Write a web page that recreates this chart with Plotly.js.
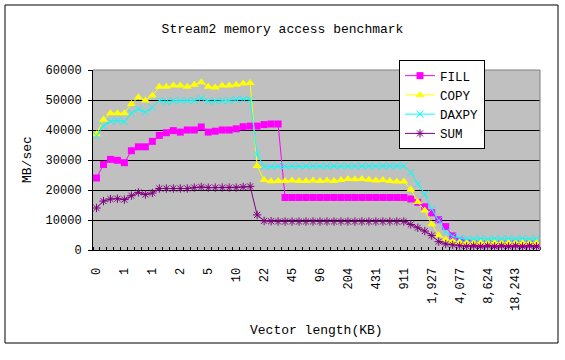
<!DOCTYPE html>
<html>
<head>
<meta charset="utf-8">
<script src="https://cdn.plot.ly/plotly-3.0.1.min.js"></script>
<style>
html,body{margin:0;padding:0;background:#fff;}
#chart{width:565px;height:360px;}
</style>
</head>
<body>
<div id="chart"></div>
<script>
// Tick labels (every 4th category, vector length in KB)
var tickLabels = ["0","1","1","2","5","10","22","45","96","204","431","911","1,927","4,077","8,624","18,243"];
var tickIndex = [0,4,8,12,16,20,24,28,32,36,40,44,48,52,56,60];

var fill = [24000,28500,30200,29900,29100,33100,34400,34400,36200,38200,
  39100,39800,39300,40000,40000,41000,39300,39600,40000,40000,
  40400,41100,41300,41300,41800,42000,42000,17500,17500,17500,
  17500,17500,17500,17500,17500,17500,17500,17500,17500,17500,
  17500,17500,17500,17500,17500,17000,15900,14400,12400,10100,
  7800,4700,3000,2300,2000,1900,2000,1800,2000,1900,
  2000,1800,2000,1900];

var copy = [38600,43400,45600,45600,45600,48700,50900,49800,51500,54400,
  54400,54800,54800,54400,55100,55900,54400,54200,54800,54800,
  55100,55500,55700,28000,23300,22900,23000,23000,23200,23000,
  23000,23200,23000,23200,23000,23300,23700,23600,23700,23400,
  23200,23300,23000,22800,22800,20200,16000,13200,8600,4900,
  3400,2800,2600,2400,2600,2400,2600,2400,2600,2400,
  2600,2400,2600,2400];

var daxpy = [38100,41400,42900,43200,42800,45600,47000,45900,47500,49800,
  49400,49800,49800,49800,49800,50500,49600,49600,49800,49800,
  50200,50200,50200,31800,27800,27800,28000,28000,28000,28000,
  28000,28000,28000,28000,28000,28000,28000,28000,28000,28000,
  28000,28000,28000,28000,28000,25800,22000,18600,13600,10000,
  6000,4600,3900,3700,3600,3800,3600,3800,3600,3800,
  3600,3800,3600,3800];

var sum = [14000,16300,17000,17100,16800,18100,19200,18500,19000,20500,
  20500,20500,20500,20500,20800,21000,20800,20800,20800,20800,
  20800,21000,21200,11700,9700,9600,9500,9500,9500,9500,
  9500,9500,9500,9500,9500,9500,9500,9500,9500,9500,
  9500,9500,9500,9500,9500,8500,7400,6300,4800,2800,
  2000,1700,1400,1200,1400,1200,1400,1200,1400,1200,
  1400,1200,1400,1200];

var xIdx = fill.map(function(_, i){ return i; });
var bounds = fill.map(function(_, i){ return i - 0.5; }).concat([fill.length - 0.5]);

var FONT = "Liberation Mono, DejaVu Sans Mono, monospace";

var traces = [
  {name:"FILL", x:xIdx, y:fill, type:"scatter", mode:"lines+markers",
   line:{color:"#FF00FF", width:1},
   marker:{symbol:"square", size:7, color:"#FF00FF"}},
  {name:"COPY", x:xIdx, y:copy, type:"scatter", mode:"lines+markers",
   line:{color:"#FFFF00", width:1},
   marker:{symbol:"triangle-up", size:8, color:"#FFFF00"}},
  {name:"DAXPY", x:xIdx, y:daxpy, type:"scatter", mode:"lines+markers",
   line:{color:"#00FFFF", width:1},
   marker:{symbol:"x-thin-open", size:7, color:"#00FFFF", line:{color:"#00FFFF", width:1}}},
  {name:"SUM", x:xIdx, y:sum, type:"scatter", mode:"lines+markers",
   line:{color:"#800080", width:1},
   marker:{symbol:"asterisk-open", size:7, color:"#800080", line:{color:"#800080", width:1}}}
];

var L = 93, R = 540, T = 70, B = 250;
var W = R - L, H = B - T;
function px(x){ return (x - L) / W; }
function py(y){ return (B - y) / H; }

var layout = {
  width:565, height:360,
  margin:{l:L, r:565-R, t:T, b:360-B, pad:0},
  paper_bgcolor:"#FFFFFF",
  plot_bgcolor:"#C0C0C0",
  font:{family:FONT, size:12, color:"#000"},
  title:{text:"Stream2 memory access benchmark", font:{family:FONT, size:13, color:"#000"},
         x:0.5, xref:"container", y:1-28/360, yref:"container", yanchor:"middle"},
  showlegend:true,
  legend:{x:px(399), y:py(60), xanchor:"left", yanchor:"top", xref:"paper", yref:"paper",
          bgcolor:"#FFFFFF", bordercolor:"#000", borderwidth:1,
          font:{family:FONT, size:12.5, color:"#000"}},
  xaxis:{
    range:[-0.5, fill.length - 0.5],
    tickmode:"array", tickvals:tickIndex, ticktext:tickLabels,
    tickangle:-90, ticks:"", showgrid:false, zeroline:false,
    showline:true, linecolor:"#000", linewidth:1,
    ticklabelstandoff:12,
    tickfont:{family:FONT, size:12, color:"#000"},
    minor:{tickmode:"array", tickvals:bounds, ticks:"inside", ticklen:3, tickcolor:"#000", tickwidth:1, showgrid:false}
  },
  yaxis:{
    range:[0,60000], dtick:10000, tick0:0, tickformat:"d",
    ticks:"outside", ticklen:4, tickcolor:"#000",
    showgrid:true, gridcolor:"#000", gridwidth:1, zeroline:false,
    showline:true, linecolor:"#000", linewidth:1,
    ticklabelstandoff:4,
    tickfont:{family:FONT, size:12, color:"#000"}
  },
  annotations:[
    {text:"Vector length(KB)", xref:"paper", yref:"paper", x:0.5, y:py(330), xanchor:"center", yanchor:"middle",
     showarrow:false, font:{family:FONT, size:13, color:"#000"}},
    {text:"MB/sec", xref:"paper", yref:"paper", x:px(27), y:0.5, xanchor:"center", yanchor:"middle",
     textangle:-90, showarrow:false, font:{family:FONT, size:13, color:"#000"}}
  ],
  shapes:[
    {type:"line", xref:"paper", yref:"paper", x0:0, x1:1, y0:1, y1:1, line:{color:"#808080", width:1}, layer:"above"},
    {type:"line", xref:"paper", yref:"paper", x0:1, x1:1, y0:0, y1:1, line:{color:"#808080", width:1}, layer:"above"},
    {type:"rect", xref:"paper", yref:"paper", x0:px(5), x1:px(558), y0:py(343), y1:py(5), line:{color:"#000", width:1}, fillcolor:"rgba(0,0,0,0)", layer:"above"}
  ]
};

Plotly.newPlot("chart", traces, layout, {displayModeBar:false, staticPlot:true});
</script>
</body>
</html>
